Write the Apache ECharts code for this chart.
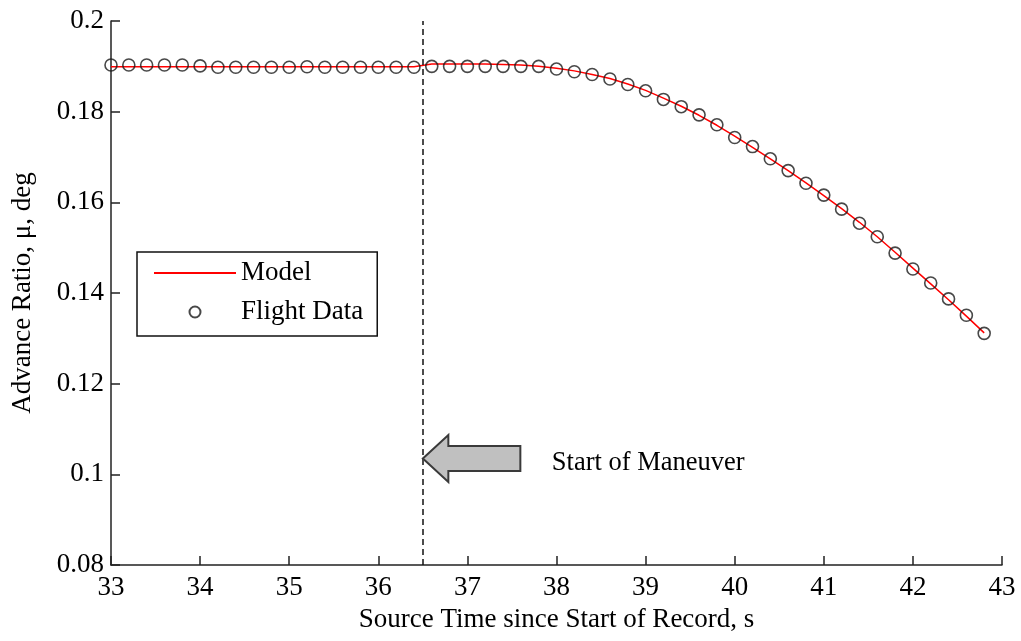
<!DOCTYPE html>
<html>
<head>
<meta charset="utf-8">
<script src="https://cdn.jsdelivr.net/npm/echarts@6/dist/echarts.min.js"></script>
<style>
  html, body { margin: 0; padding: 0; background: #ffffff; }
  #chart { width: 1021px; height: 641px; }
</style>
</head>
<body>
<div id="chart"></div>
<script>
// ---- data ----
const flightTime = [33.0, 33.2, 33.4, 33.6, 33.8, 34.0, 34.2, 34.4, 34.6, 34.8,
                    35.0, 35.2, 35.4, 35.6, 35.8, 36.0, 36.2, 36.4, 36.6, 36.8,
                    37.0, 37.2, 37.4, 37.6, 37.8, 38.0, 38.2, 38.4, 38.6, 38.8,
                    39.0, 39.2, 39.4, 39.6, 39.8, 40.0, 40.2, 40.4, 40.6, 40.8,
                    41.0, 41.2, 41.4, 41.6, 41.8, 42.0, 42.2, 42.4, 42.6, 42.8];
const flightMu = [0.1903, 0.1903, 0.1903, 0.1903, 0.1903, 0.1901, 0.1898, 0.1898, 0.1898, 0.1898,
                  0.1898, 0.1899, 0.1898, 0.1898, 0.1898, 0.1898, 0.1898, 0.1898, 0.1900, 0.1900,
                  0.1900, 0.1900, 0.1900, 0.1900, 0.1900, 0.1894, 0.1888, 0.1882, 0.1872, 0.1860,
                  0.1846, 0.1827, 0.1811, 0.1793, 0.1771, 0.1743, 0.1723, 0.1696, 0.1670, 0.1642,
                  0.1616, 0.1585, 0.1554, 0.1524, 0.1488, 0.1453, 0.1422, 0.1387, 0.1351, 0.1311];
const modelTime = [33.0, 33.2, 33.4, 33.6, 33.8, 34.0, 34.2, 34.4, 34.6, 34.8,
                   35.0, 35.2, 35.4, 35.6, 35.8, 36.0, 36.2, 36.4, 36.6, 36.8,
                   37.0, 37.2, 37.4, 37.6, 37.8, 38.0, 38.2, 38.4, 38.6, 38.8,
                   39.0, 39.2, 39.4, 39.6, 39.8, 40.0, 40.2, 40.4, 40.6, 40.8,
                   41.0, 41.2, 41.4, 41.6, 41.8, 42.0, 42.2, 42.4, 42.6, 42.8];
const modelMu = [0.1899, 0.1899, 0.1899, 0.1899, 0.1899, 0.1899, 0.1899, 0.1899, 0.1899, 0.1899,
                 0.1899, 0.1899, 0.1899, 0.1899, 0.1899, 0.1899, 0.1899, 0.1899, 0.1905, 0.1905,
                 0.1905, 0.1905, 0.1904, 0.1903, 0.1900, 0.1896, 0.1890, 0.1882, 0.1873, 0.1861,
                 0.1847, 0.1830, 0.1812, 0.1792, 0.1770, 0.1746, 0.1721, 0.1696, 0.1670, 0.1643,
                 0.1615, 0.1586, 0.1556, 0.1524, 0.1490, 0.1455, 0.1420, 0.1385, 0.1349, 0.1312];
const maneuverStart = 36.5;
const arrowTip = [36.5, 0.1035];
const annotationText = 'Start of Maneuver';
const xTitle = 'Source Time since Start of Record, s';
const yTitle = 'Advance Ratio, \u03bc, deg';

const FONT = '"Liberation Serif", "Times New Roman", serif';
const chart = echarts.init(document.getElementById('chart'), null, { renderer: 'canvas' });

const zip = (a, b) => a.map((v, i) => [v, b[i]]);

chart.setOption({
  animation: false,
  backgroundColor: '#ffffff',
  textStyle: { fontFamily: FONT, color: '#000' },
  grid: { left: 111, right: 19, top: 21, bottom: 76, containLabel: false },
  xAxis: {
    type: 'value', min: 33, max: 43, interval: 1,
    name: xTitle, nameLocation: 'middle', nameGap: 41,
    nameTextStyle: { fontFamily: FONT, fontSize: 27, color: '#000' },
    axisLine: { show: true, lineStyle: { color: '#222', width: 1.5 } },
    axisTick: { show: true, inside: true, length: 9, lineStyle: { color: '#222', width: 1.5 } },
    axisLabel: { fontFamily: FONT, fontSize: 27, color: '#000', margin: 9 },
    splitLine: { show: false }
  },
  yAxis: {
    type: 'value', min: 0.08, max: 0.2, interval: 0.02,
    name: yTitle, nameLocation: 'middle', nameGap: 75, nameRotate: 90,
    nameTextStyle: { fontFamily: FONT, fontSize: 27, color: '#000' },
    axisLine: { show: true, lineStyle: { color: '#222', width: 1.5 } },
    axisTick: { show: true, inside: true, length: 9, lineStyle: { color: '#222', width: 1.5 } },
    axisLabel: { fontFamily: FONT, fontSize: 27, color: '#000', margin: 7 },
    splitLine: { show: false }
  },
  legend: {
    orient: 'vertical', left: 137, top: 252,
    padding: [7, 14, 10, 16], itemGap: 11,
    itemWidth: 82, itemHeight: 11,
    borderColor: '#111', borderWidth: 1.5,
    backgroundColor: '#fff',
    textStyle: { fontFamily: FONT, fontSize: 27, color: '#000', lineHeight: 28 },
    data: [
      { name: 'Model', itemStyle: { opacity: 0 } },
      { name: 'Flight Data' }
    ]
  },
  series: [
    {
      name: 'Model', type: 'line', data: zip(modelTime, modelMu),
      symbol: 'none', smooth: false, z: 3,
      lineStyle: { color: '#ff0000', width: 1.5 },
      itemStyle: { color: '#ff0000' },
      markLine: {
        silent: true, symbol: 'none', animation: false,
        label: { show: false },
        lineStyle: { color: '#111', width: 1.5, type: [6, 4] },
        data: [{ xAxis: maneuverStart }]
      }
    },
    {
      name: 'Flight Data', type: 'scatter', data: zip(flightTime, flightMu),
      symbol: 'circle', symbolSize: 12, z: 4,
      itemStyle: { color: 'rgba(0,0,0,0)', borderColor: '#1a1a1a', borderWidth: 1.6 }
    }
  ]
});

// annotation arrow anchored to data coordinates
const tip = chart.convertToPixel({ gridIndex: 0 }, arrowTip);
const tx = tip[0], ty = tip[1];
chart.setOption({
  graphic: [
    {
      type: 'polygon', z: 10,
      shape: { points: [
        [tx, ty], [tx + 25.5, ty - 23.5], [tx + 25.5, ty - 12.5], [tx + 97.5, ty - 12.5],
        [tx + 97.5, ty + 12.5], [tx + 25.5, ty + 12.5], [tx + 25.5, ty + 23.5]
      ] },
      style: { fill: '#c0c0c0', stroke: '#3a3a3a', lineWidth: 2 }
    },
    {
      type: 'text', z: 10, x: tx + 129, y: ty + 5,
      style: { text: annotationText, fontFamily: FONT, fontSize: 26.5, fill: '#000',
               textAlign: 'left', textVerticalAlign: 'middle' }
    }
  ]
});
</script>
</body>
</html>
